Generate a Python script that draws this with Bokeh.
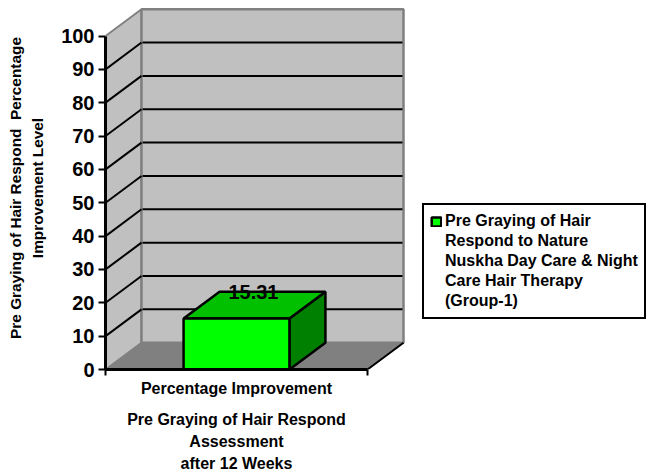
from bokeh.plotting import figure
from bokeh.models import Range1d, FixedTicker, Legend, LegendItem, LinearAxis
from bokeh.core.properties import value
from bokeh.embed import file_html
from bokeh.resources import INLINE

categories = ["Percentage Improvement"]
values = [15.31]
y_ticks = [0, 10, 20, 30, 40, 50, 60, 70, 80, 90, 100]
y_title = "Pre Graying of Hair Respond \u00a0Percentage\nImprovement Level"
x_title = "Pre Graying of Hair Respond\nAssessment\nafter 12 Weeks"
legend_lines = ["Pre Graying of Hair", "Respond to Nature", "Nuskha Day Care & Night", "Care Hair Therapy", "(Group-1)"]

FONT = "Liberation Sans"
W, H = 655, 472
L, R_, T, B = 105, 250, 6, 103
FW, FH = W - L - R_, H - T - B
px_x = 262.0
px_y = 3.335
dx = 36 / px_x
dy = 26.8 / px_y
bar_l, bar_r = 0.298, 0.702
mid = (bar_l + bar_r) / 2

p = figure(width=W, height=H, output_backend="svg", toolbar_location=None,
           x_range=Range1d(0, FW / px_x), y_range=Range1d(0, FH / px_y),
           min_border_left=L, min_border_right=R_, min_border_top=T, min_border_bottom=B,
           frame_width=FW, frame_height=FH)
p.outline_line_color = None
p.grid.visible = False
p.background_fill_color = "white"
p.border_fill_color = "white"

# floor, walls
p.patch([0, 1, 1 + dx, dx], [0, 0, dy, dy], fill_color="#808080", line_color="#808080", line_width=1)
p.patch([0, dx, dx, 0], [0, dy, 100 + dy, 100], fill_color="#C0C0C0", line_color="#808080", line_width=2)
p.patch([dx, 1 + dx, 1 + dx, dx], [dy, dy, 100 + dy, 100 + dy], fill_color="#C0C0C0", line_color="#808080", line_width=2.5)
grid = [t for t in y_ticks if 0 < t < 100]
p.multi_line([[0, dx] for _ in grid], [[t, t + dy] for t in grid], line_color="black", line_width=2)
p.multi_line([[dx + 0.004, 1 + dx - 0.004] for _ in grid], [[t + dy, t + dy] for t in grid], line_color="black", line_width=2)
p.line([1, 1 + dx], [0, dy], line_color="black", line_width=2)

# bar
v = values[0]
p.patch([bar_r, bar_r + dx, bar_r + dx, bar_r], [0, dy, v + dy, v], fill_color="#008000", line_color="black", line_width=2.5)
p.patch([bar_l, bar_r, bar_r + dx, bar_l + dx], [v, v, v + dy, v + dy], fill_color="#00C000", line_color="black", line_width=2.5)
front = p.patch([bar_l, bar_r, bar_r, bar_l], [0, 0, v, v], fill_color="#00FF00", line_color="black", line_width=2.5)
p.text([(bar_l + bar_r + dx) / 2 - 0.004], [v + dy], text=[f"{v:.2f}"], text_font=value(FONT), text_font_style="bold",
       text_font_size="20px", text_color="black", text_align="center", text_baseline="middle")

# axes
ya = p.yaxis[0]
ya.ticker = FixedTicker(ticks=y_ticks)
ya.bounds = (0, 100)
ya.axis_line_color = "black"; ya.axis_line_width = 3
ya.major_tick_line_color = "black"; ya.major_tick_line_width = 2
ya.major_tick_in = 0; ya.major_tick_out = 7
ya.minor_tick_line_color = None
ya.major_label_text_font = FONT; ya.major_label_text_font_style = "bold"
ya.major_label_text_font_size = "20px"; ya.major_label_text_color = "black"
ya.major_label_standoff = 4
ya.axis_label = y_title
ya.axis_label_text_font = FONT; ya.axis_label_text_font_style = "bold"
ya.axis_label_text_font_size = "15.4px"; ya.axis_label_text_color = "black"
ya.axis_label_text_line_height = 1.3
ya.axis_label_standoff = 12

xa = p.xaxis[0]
xa.ticker = FixedTicker(ticks=[mid], minor_ticks=[0, 1])
xa.major_label_overrides = {mid: categories[0]}
xa.bounds = (0, 1)
xa.axis_line_color = "black"; xa.axis_line_width = 3
xa.major_tick_line_color = None; xa.major_tick_in = 0; xa.major_tick_out = 0
xa.minor_tick_line_color = "black"; xa.minor_tick_line_width = 2
xa.minor_tick_in = 0; xa.minor_tick_out = 6
xa.major_label_text_font = FONT; xa.major_label_text_font_style = "bold"
xa.major_label_text_font_size = "16px"; xa.major_label_text_color = "black"
xa.major_label_standoff = 4

xb = LinearAxis(ticker=FixedTicker(ticks=[mid]), major_label_overrides={mid: x_title})
xb.axis_line_color = None; xb.major_tick_line_color = None; xb.minor_tick_line_color = None
xb.major_tick_in = 0; xb.major_tick_out = 0; xb.minor_tick_in = 0; xb.minor_tick_out = 0
xb.major_label_text_font = FONT; xb.major_label_text_font_style = "bold"
xb.major_label_text_font_size = "16px"; xb.major_label_text_color = "black"
xb.major_label_text_line_height = 1.3
xb.major_label_standoff = 11
p.add_layout(xb, "below")

items = [LegendItem(label=t, renderers=[front] if i == 0 else []) for i, t in enumerate(legend_lines)]
leg = Legend(items=items, location=(17, 50))
leg.border_line_color = "black"; leg.border_line_width = 2; leg.border_line_alpha = 1
leg.padding = 6; leg.spacing = 0; leg.margin = 0
leg.glyph_width = 12; leg.glyph_height = 11; leg.label_standoff = 3; leg.label_height = 20
leg.label_text_font = FONT; leg.label_text_font_style = "bold"; leg.label_text_font_size = "16px"
leg.label_text_color = "black"
p.add_layout(leg, "right")

open("out.html", "w").write(file_html(p, INLINE))
